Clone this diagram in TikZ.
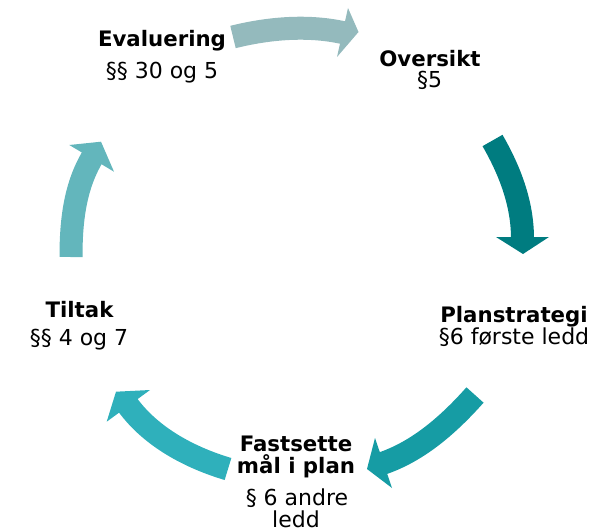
\documentclass[tikz,border=0pt]{standalone}
\usepackage{fontspec}
\setmainfont{DejaVu Sans}
\definecolor{cA}{RGB}{148,186,189}
\definecolor{cB}{RGB}{0,124,128}
\definecolor{cC}{RGB}{22,156,164}
\definecolor{cD}{RGB}{47,176,187}
\definecolor{cE}{RGB}{99,182,188}
\tikzset{
  body/.style={line width=23pt},
  ttl/.style={font=\fontsize{21.3}{24}\selectfont\bfseries, anchor=base, inner sep=0pt},
  sub/.style={font=\fontsize{22}{26}\selectfont, anchor=base, inner sep=0pt},
}
\begin{document}
\begin{tikzpicture}[x=1pt,y=-1pt]
\useasboundingbox (0,0) rectangle (610,532);
% labels
\node[ttl] (evt) at (162,47) {Evaluering};
\node[sub] (evs) at (162,79) {§§ 30 og 5};
\node[ttl] (ovt) at (430,66.5) {Oversikt};
\node[sub] (ovs) at (429.5,87.5) {§5};
\node[ttl] (plt) at (514,322) {Planstrategi};
\node[sub] (pls) at (514,344) {§6 første ledd};
\node[ttl] (fat) at (296,451) {Fastsette};
\node[ttl] (fam) at (296,473.5) {mål i plan};
\node[sub] (fas) at (297,505) {§ 6 andre};
\node[sub] (fal) at (296,527) {ledd};
\node[ttl] (tit) at (79.5,317) {Tiltak};
\node[sub] (tis) at (79,345) {§§ 4 og 7};
% arrow 1
\coordinate (a1s) at (233,37);
\coordinate (a1b) at (343.9,32.8);
\draw[body,cA] (a1s) .. controls (268,28.3) and (307.4,24.6) .. (a1b);
\fill[cA] (348,8) -- (358.5,32) -- (337,57) -- cycle;
% arrow 2
\coordinate (a2s) at (492.5,140.5);
\coordinate (a2b) at (522.5,238.5);
\draw[body,cB] (a2s) .. controls (509.5,170) and (522.5,203) .. (a2b);
\fill[cB] (496,237) -- (523,254) -- (549,237) -- cycle;
% arrow 3
\coordinate (a3s) at (475,395);
\coordinate (a3b) at (382.1,463.5);
\draw[body,cC] (a3s) .. controls (449.7,423.4) and (419.4,450.8) .. (a3b);
\fill[cC] (375,438) -- (367,469) -- (392,488) -- cycle;
% arrow 4
\coordinate (a4s) at (228,469);
\coordinate (a4b) at (127.4,404.6);
\draw[body,cD] (a4s) .. controls (190.2,457.7) and (151.6,437.6) .. (a4b);
\fill[cD] (106.7,421.7) -- (116,391.7) -- (150,390) -- cycle;
% arrow 5
\coordinate (a5s) at (71,257);
\coordinate (a5b) at (92.5,157);
\draw[body,cE] (a5s) .. controls (71,223) and (74.3,187.5) .. (a5b);
\fill[cE] (69.3,145) -- (101,141.7) -- (114,171.7) -- cycle;
\end{tikzpicture}
\end{document}
